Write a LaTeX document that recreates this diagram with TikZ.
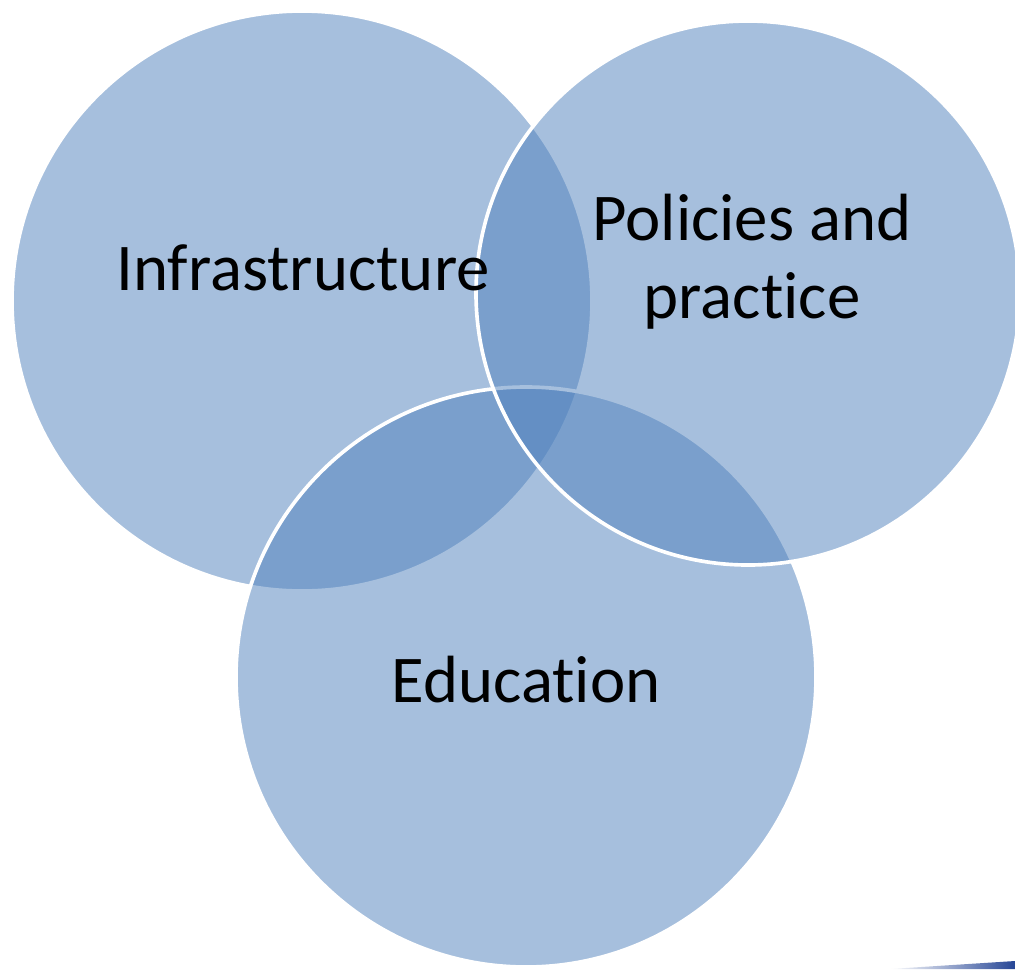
\documentclass[tikz,border=0pt]{standalone}
\usepackage{fontspec}
\setmainfont{Carlito}[Ligatures=NoCommon, RawFeature=-liga]
\usetikzlibrary{shadings}
\definecolor{vennblue}{RGB}{79,129,189}
\definecolor{slideblue}{RGB}{38,70,150}
\tikzset{
	venn/.style={fill=vennblue, fill opacity=0.5, draw=white, line width=2.6pt},
	vennlabel/.style={text=black, font=\fontsize{47.5}{55.5}\selectfont, align=center}
}

\begin{document}
\begin{tikzpicture}[x=0.025cm, y=-0.025cm]
		%%%%% START %%%%%
		\useasboundingbox[fill=white] (0, 0) rectangle (1015, 969);
		
		\draw[venn] (302, 301) circle (290);
		\draw[venn] (526, 677) circle (290);
		\draw[venn] (748, 293) circle (272);
		
		\node[vennlabel] (infra) at (303, 268) {Infrastructure};
		\node[vennlabel] (policy) at (752, 262) {Policies and\\practice};
		\node[vennlabel] (edu) at (526, 680) {Education};
		
		% slide edge, bottom right
		\shade[left color=white, right color=slideblue] (890, 969) -- (1015, 961) -- (1015, 969) -- cycle;
		
		%%%%% END %%%%%
	\end{tikzpicture}
\end{document}
